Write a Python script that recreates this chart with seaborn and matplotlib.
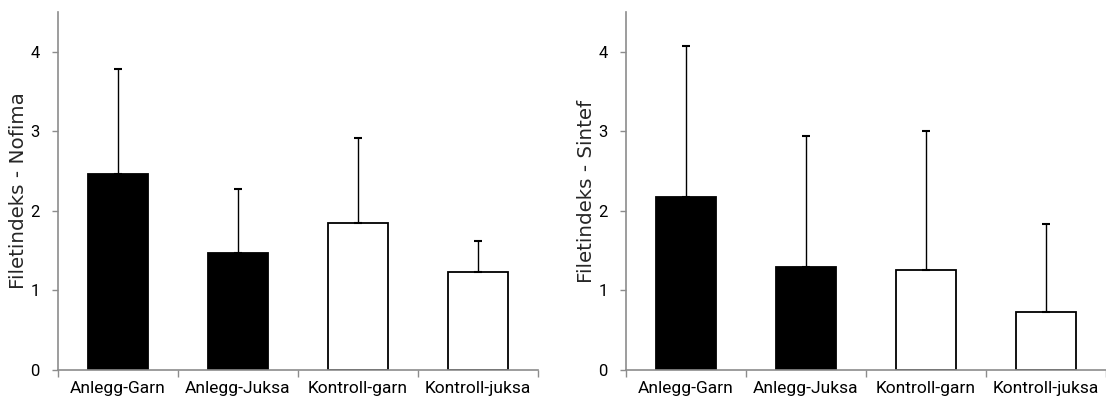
import numpy as np
import pandas as pd
import matplotlib
matplotlib.use("Agg")
import matplotlib.pyplot as plt
import seaborn as sns

# data
categories = ["Anlegg-Garn", "Anlegg-Juksa", "Kontroll-garn", "Kontroll-juksa"]
bar_colors = ["black", "black", "white", "white"]

nofima_mean = [2.46, 1.47, 1.85, 1.23]
nofima_err = [1.32, 0.80, 1.06, 0.39]

sintef_mean = [2.18, 1.29, 1.26, 0.73]
sintef_err = [1.89, 1.65, 1.75, 1.11]

y_ticks = [0, 1, 2, 3, 4]

sns.set_style("white")
plt.rcParams["font.family"] = ["Liberation Sans Narrow", "Roboto", "DejaVu Sans"]

fig = plt.figure(figsize=(11.06, 4.05), dpi=100)
ax_left = fig.add_axes([58 / 1106, 35 / 405, 480 / 1106, 358 / 405])
ax_right = fig.add_axes([626 / 1106, 35 / 405, 480 / 1106, 358 / 405])

panels = [
    (ax_left, nofima_mean, nofima_err, "Filetindeks - Nofima"),
    (ax_right, sintef_mean, sintef_err, "Filetindeks - Sintef"),
]

axis_grey = "#8c8c8c"

for ax, means, errs, label in panels:
    df = pd.DataFrame({"gruppe": categories, "verdi": means})
    sns.barplot(data=df, x="gruppe", y="verdi", hue="gruppe",
                palette=bar_colors, edgecolor="black", linewidth=1.3,
                width=0.5, legend=False, ax=ax)
    # only the upper half of the error bar is shown
    ax.errorbar(np.arange(len(categories)), means,
                yerr=[np.zeros(len(errs)), errs],
                fmt="none", ecolor="black", elinewidth=1.0,
                capsize=3, capthick=1.5, zorder=1)

    ax.set_xlim(-0.5, len(categories) - 0.5)
    ax.set_ylim(0, 4.5)
    ax.set_yticks(y_ticks)
    ax.set_yticklabels([str(t) for t in y_ticks], fontsize=12)

    # tick marks between categories, labels at category centres
    ax.set_xticks(np.arange(len(categories) + 1) - 0.5)
    ax.set_xticklabels([])
    ax.set_xticks(np.arange(len(categories)), minor=True)
    ax.set_xticklabels(categories, minor=True, fontsize=12.5)
    ax.tick_params(axis="x", which="major", direction="out", length=5,
                   color=axis_grey, width=1, bottom=True)
    ax.tick_params(axis="x", which="minor", length=0, pad=8, bottom=True,
                   labelcolor="black")
    ax.tick_params(axis="y", direction="out", length=4, color=axis_grey,
                   width=1, left=True, pad=9, labelcolor="black")

    ax.set_xlabel("")
    ax.set_ylabel(label, fontsize=14.3, family=["DejaVu Sans"])
    ax.yaxis.set_label_coords(-0.063, 0.5)

    sns.despine(ax=ax)
    for side in ["left", "bottom"]:
        ax.spines[side].set_color(axis_grey)
        ax.spines[side].set_linewidth(1.2)
        ax.spines[side].set_zorder(5)

fig.savefig("out.png", dpi=100)
